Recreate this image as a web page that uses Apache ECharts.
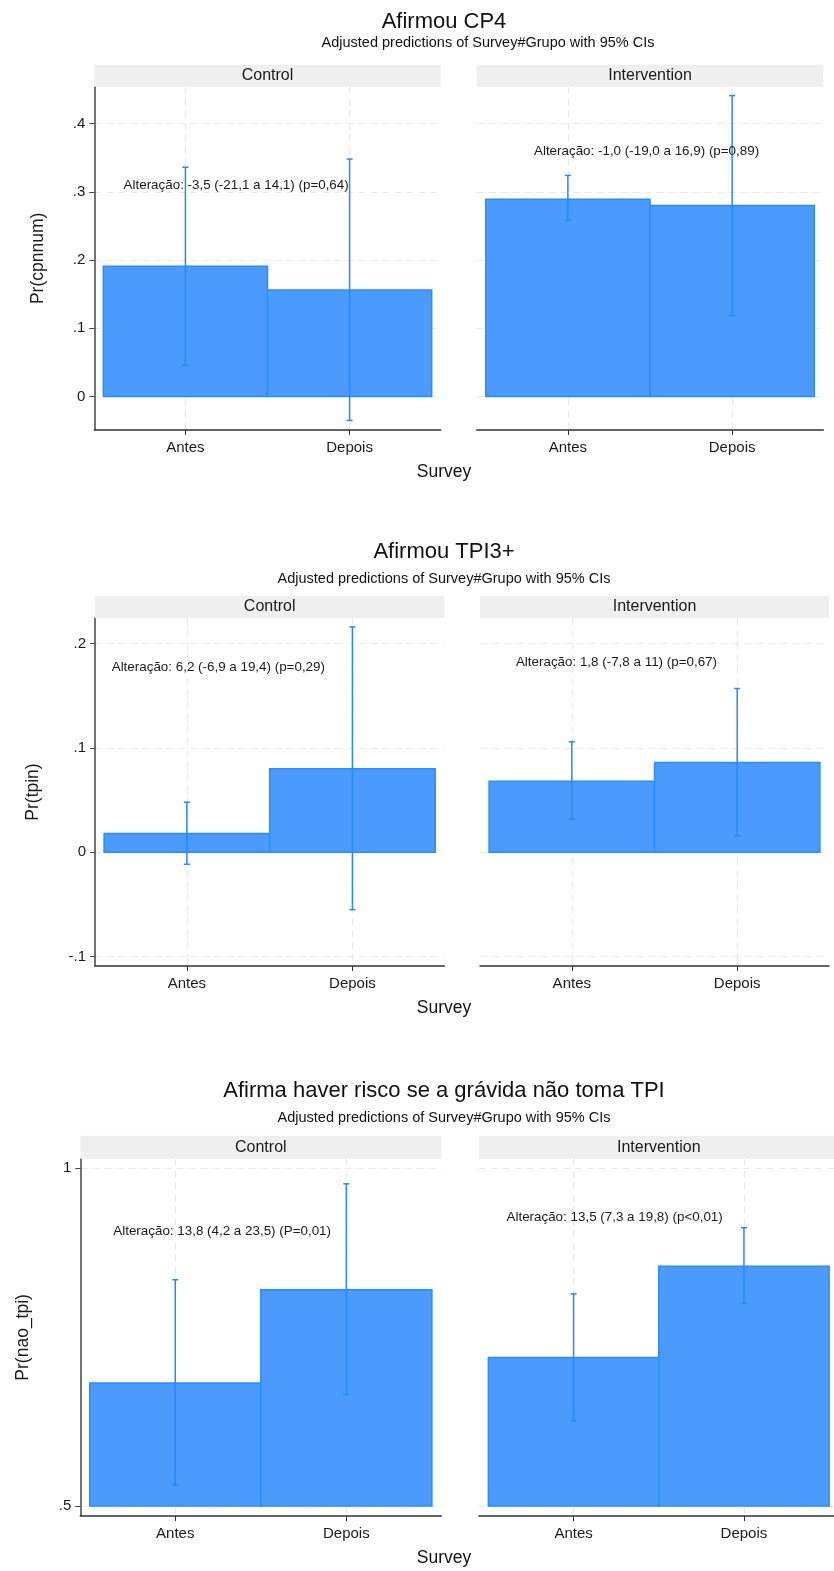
<!DOCTYPE html>
<html>
<head>
<meta charset="utf-8">
<script src="https://cdn.jsdelivr.net/npm/echarts@6/dist/echarts.min.js"></script>
<style>
html,body{margin:0;padding:0;background:#fff;overflow:hidden;}
#main{width:846px;height:1571px;}
</style>
</head>
<body>
<div id="main"></div>
<script>
// ---------------- DATA ----------------
const categories = ['Antes', 'Depois'];
const categoryX = [1, 2];
const groups = ['Control', 'Intervention'];
const panelTitles = ['Afirmou CP4', 'Afirmou TPI3+', 'Afirma haver risco se a grávida não toma TPI'];
const subtitleText = 'Adjusted predictions of Survey#Grupo with 95% CIs';
const xTitle = 'Survey';
const yNames = ['Pr(cpnnum)', 'Pr(tpin)', 'Pr(nao_tpi)'];

// Afirmou CP4
const cp4Control = [0.191, 0.156];
const cp4ControlLo = [0.046, -0.035];
const cp4ControlHi = [0.336, 0.348];
const cp4Interv = [0.289, 0.280];
const cp4IntervLo = [0.258, 0.119];
const cp4IntervHi = [0.324, 0.441];

// Afirmou TPI3+
const tpiControl = [0.018, 0.080];
const tpiControlLo = [-0.0115, -0.055];
const tpiControlHi = [0.048, 0.216];
const tpiInterv = [0.068, 0.086];
const tpiIntervLo = [0.032, 0.016];
const tpiIntervHi = [0.106, 0.157];

// Afirma haver risco
const naoControl = [0.682, 0.820];
const naoControlLo = [0.531, 0.665];
const naoControlHi = [0.835, 0.977];
const naoInterv = [0.720, 0.855];
const naoIntervLo = [0.626, 0.800];
const naoIntervHi = [0.814, 0.912];

// Y tick values and labels per row
const yTicks1 = [0, 0.1, 0.2, 0.3, 0.4];
const yTickLabels1 = ['0', '.1', '.2', '.3', '.4'];
const yTicks2 = [-0.1, 0, 0.1, 0.2];
const yTickLabels2 = ['-.1', '0', '.1', '.2'];
const yTicks3 = [0.5, 1];
const yTickLabels3 = ['.5', '1'];

// Axis ranges
const yRange1 = [-0.049, 0.454];
const yRange2 = [-0.109, 0.2246];
const yRange3 = [0.4852, 1.0142];
const xRange = [0.445, 2.555];
const barBase = [0, 0, 0.5];

// Annotations: text, x (data), y (data)
const annotText = [
  'Alteração: -3,5 (-21,1 a 14,1) (p=0,64)',
  'Alteração: -1,0 (-19,0 a 16,9) (p=0,89)',
  'Alteração: 6,2 (-6,9 a 19,4) (p=0,29)',
  'Alteração: 1,8 (-7,8 a 11) (p=0,67)',
  'Alteração: 13,8 (4,2 a 23,5) (P=0,01)',
  'Alteração: 13,5 (7,3 a 19,8) (p<0,01)'
];
const annotX = [1.309, 1.479, 1.19, 1.27, 1.274, 1.241];
const annotY = [0.31, 0.36, 0.177, 0.182, 0.907, 0.928];

// ---------------- LAYOUT / STYLE ----------------
const FONT = '"Liberation Sans", Arial, Helvetica, sans-serif';
const TXT = '#1a1a1a';
const BAR_FILL = '#4b9bff';
const BAR_EDGE = '#2a8cff';
const CI_COLOR = '#2589ff';
const GRID_COLOR = '#e9e9e9';

const panels = [
  {row:0, g:0, vals:cp4Control, lo:cp4ControlLo, hi:cp4ControlHi, left:94.3, top:86.7, width:346.4, height:343.3},
  {row:0, g:1, vals:cp4Interv, lo:cp4IntervLo, hi:cp4IntervHi, left:476.7, top:86.7, width:346.6, height:343.3},
  {row:1, g:0, vals:tpiControl, lo:tpiControlLo, hi:tpiControlHi, left:95, top:618, width:349.3, height:348},
  {row:1, g:1, vals:tpiInterv, lo:tpiIntervLo, hi:tpiIntervHi, left:480, top:618, width:349, height:348},
  {row:2, g:0, vals:naoControl, lo:naoControlLo, hi:naoControlHi, left:80.3, top:1158.7, width:361, height:357.3},
  {row:2, g:1, vals:naoInterv, lo:naoIntervLo, hi:naoIntervHi, left:479, top:1158.7, width:359.5, height:357.3}
];
const yTicksRows = [yTicks1, yTicks2, yTicks3];
const yLabelRows = [yTickLabels1, yTickLabels2, yTickLabels3];
const yRangeRows = [yRange1, yRange2, yRange3];
const yNameGap = [47, 53, 48];
const stripH = [22, 22, 23];
const titleY = [22, 551.7, 1090.7];
const subY = [43, 579.3, 1118.3];
const subX = [488, 444, 444];
const surveyY = [471.7, 1008, 1558];

const grids = [], xAxes = [], yAxes = [], series = [], graphics = [];

panels.forEach((p, i) => {
  grids.push({left: p.left, top: p.top, width: p.width, height: p.height, containLabel: false});
  xAxes.push({
    type: 'value', gridIndex: i, min: xRange[0], max: xRange[1],
    axisLine: {show: true, onZero: false, lineStyle: {color: '#333', width: 1.5}},
    axisTick: {show: true, customValues: categoryX, length: 5, lineStyle: {color: '#333'}},
    axisLabel: {show: true, customValues: categoryX, margin: 10, fontFamily: FONT, fontSize: 15, color: TXT,
      formatter: v => categories[Math.round(v) - 1]},
    splitLine: {show: true, lineStyle: {color: GRID_COLOR, type: [7, 5], width: 1.2}}
  });
  const ticks = yTicksRows[p.row], labs = yLabelRows[p.row];
  const isLeft = p.g === 0;
  yAxes.push({
    type: 'value', gridIndex: i, min: yRangeRows[p.row][0], max: yRangeRows[p.row][1],
    name: isLeft ? yNames[p.row] : '',
    nameLocation: 'middle', nameGap: yNameGap[p.row],
    nameTextStyle: {fontFamily: FONT, fontSize: 17.5, color: TXT},
    axisLine: {show: isLeft, lineStyle: {color: '#444', width: 1.5}},
    axisTick: {show: isLeft, customValues: ticks, length: 5, lineStyle: {color: '#444'}},
    axisLabel: {show: isLeft, customValues: ticks, margin: 9, fontFamily: FONT, fontSize: 15, color: TXT,
      formatter: v => { const k = ticks.findIndex(t => Math.abs(t - v) < 1e-9); return k >= 0 ? labs[k] : ''; }},
    splitLine: {show: true, lineStyle: {color: GRID_COLOR, type: [7, 5], width: 1.2}}
  });
  const base = barBase[p.row];
  const data = categoryX.map((x, k) => [x, p.vals[k], p.lo[k], p.hi[k]]);
  series.push({
    type: 'custom', xAxisIndex: i, yAxisIndex: i, clip: false,
    data: data,
    renderItem: (params, api) => {
      const x = api.value(0), v = api.value(1), lo = api.value(2), hi = api.value(3);
      const a = api.coord([x - 0.5, v]);
      const b = api.coord([x + 0.5, base]);
      const c1 = api.coord([x, lo]);
      const c2 = api.coord([x, hi]);
      return {
        type: 'group',
        children: [
          {type: 'rect', shape: {x: a[0], y: a[1], width: b[0] - a[0], height: b[1] - a[1]},
           style: {fill: BAR_FILL, stroke: BAR_EDGE, lineWidth: 1.5}},
          {type: 'line', shape: {x1: c1[0], y1: c1[1], x2: c2[0], y2: c2[1]}, style: {stroke: CI_COLOR, lineWidth: 1.5}},
          {type: 'line', shape: {x1: c1[0] - 3, y1: c1[1], x2: c1[0] + 3, y2: c1[1]}, style: {stroke: CI_COLOR, lineWidth: 1.5}},
          {type: 'line', shape: {x1: c2[0] - 3, y1: c2[1], x2: c2[0] + 3, y2: c2[1]}, style: {stroke: CI_COLOR, lineWidth: 1.5}}
        ]
      };
    },
    z: 3
  });
  series.push({
    type: 'custom', xAxisIndex: i, yAxisIndex: i, clip: false,
    data: [[annotX[i], annotY[i]]],
    renderItem: (params, api) => {
      const pt = api.coord([api.value(0), api.value(1)]);
      return {type: 'text', x: pt[0], y: pt[1],
        style: {text: annotText[i], fill: TXT, font: '13.4px ' + FONT, align: 'center', verticalAlign: 'middle'}};
    },
    z: 4
  });
  // facet strip
  const sTop = p.top - stripH[p.row];
  graphics.push({type: 'rect', left: p.left, top: sTop, z: 1,
    shape: {x: 0, y: 0, width: p.width, height: stripH[p.row]},
    style: {fill: '#efefef'}});
  graphics.push({type: 'text', x: p.left + p.width / 2, y: sTop + stripH[p.row] / 2, z: 2,
    style: {text: groups[p.g], fill: TXT, font: '16px ' + FONT, align: 'center', verticalAlign: 'middle'}});
});

for (let r = 0; r < 3; r++) {
  graphics.push({type: 'text', x: 444, y: titleY[r], z: 2,
    style: {text: panelTitles[r], fill: '#111', font: '22px ' + FONT, align: 'center', verticalAlign: 'middle'}});
  graphics.push({type: 'text', x: subX[r], y: subY[r], z: 2,
    style: {text: subtitleText, fill: '#111', font: '14.5px ' + FONT, align: 'center', verticalAlign: 'middle'}});
  graphics.push({type: 'text', x: 444, y: surveyY[r], z: 2,
    style: {text: xTitle, fill: '#111', font: '17.5px ' + FONT, align: 'center', verticalAlign: 'middle'}});
}

const chart = echarts.init(document.getElementById('main'), null, {renderer: 'canvas'});
chart.setOption({
  backgroundColor: '#ffffff',
  animation: false,
  grid: grids,
  xAxis: xAxes,
  yAxis: yAxes,
  series: series,
  graphic: graphics
});
</script>
</body>
</html>
